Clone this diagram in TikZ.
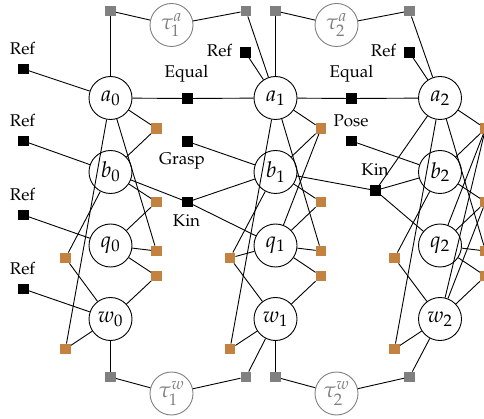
\documentclass[tikz,border=0pt]{standalone}
\usepackage[T1]{fontenc}
\usepackage{mathpazo}
\definecolor{forangec}{RGB}{196,130,64}
\definecolor{fgrayc}{RGB}{128,128,128}
\begin{document}
\begin{tikzpicture}[x=1pt,y=-1pt,
  every node/.style={font=\fontsize{17}{20}\selectfont},
  var/.style={circle,draw,line width=0.9pt,minimum size=43pt,inner sep=0pt,font=\fontsize{22}{24}\selectfont},
  tau/.style={circle,draw=fgrayc,text=fgrayc,line width=0.9pt,minimum size=43pt,inner sep=0pt,font=\fontsize{22}{24}\selectfont},
  fsq/.style={rectangle,inner sep=0pt,minimum size=10.5pt},
  fblack/.style={fsq,fill=black},
  forange/.style={fsq,fill=forangec},
  fgray/.style={fsq,fill=fgrayc},
  lab/.style={inner sep=0pt},
  edge/.style={line width=0.9pt}]
\useasboundingbox (0,0) rectangle (484,419);
% variables
\foreach \c/\x in {0/110.5,1/275.5,2/440}{
  \node[var] (a\c) at (\x,98) {$a_{\c}$};
  \node[var] (b\c) at (\x,172) {$b_{\c}$};
  \node[var] (q\c) at (\x,245.5) {$q_{\c}$};
  \node[var] (w\c) at (\x,319) {$w_{\c}$};
}
% tau nodes
\node[tau] (taua1) at (171.5,25) {$\tau_1^a$};
\node[tau] (taua2) at (336.5,25) {$\tau_2^a$};
\node[tau] (tauw1) at (171.5,393.5) {$\tau_1^w$};
\node[tau] (tauw2) at (336.5,393.5) {$\tau_2^w$};
% gray factors
\node[fgray] (ga0) at (110.5,11) {};
\node[fgray] (ga1l) at (246,11) {};
\node[fgray] (ga1r) at (275.5,11) {};
\node[fgray] (ga2) at (409.5,11) {};
\node[fgray] (gw0) at (110.5,377) {};
\node[fgray] (gw1l) at (246,377) {};
\node[fgray] (gw1r) at (275.5,377) {};
\node[fgray] (gw2) at (409.5,377) {};
% Ref factors
\node[fblack] (r0a) at (23.5,69) {};
\node[fblack] (r0b) at (23.5,141) {};
\node[fblack] (r0q) at (23.5,215) {};
\node[fblack] (r0w) at (23.5,289) {};
\node[fblack] (r1) at (245.5,52.5) {};
\node[fblack] (r2) at (409.5,52.5) {};
\node[lab] (lr0a) at (22.5,49) {Ref};
\node[lab] (lr0b) at (22.5,121) {Ref};
\node[lab] (lr0q) at (22.5,195) {Ref};
\node[lab] (lr0w) at (22.5,269) {Ref};
\node[lab] (lr1) at (219.5,51) {Ref};
\node[lab] (lr2) at (383.5,51) {Ref};
% other black factors
\node[fblack] (eq1) at (187.5,98.5) {};
\node[fblack] (eq2) at (351.5,98.5) {};
\node[fblack] (grasp) at (187.5,141.5) {};
\node[fblack] (kin1) at (187.5,202) {};
\node[fblack] (kin2) at (375.5,190.5) {};
\node[fblack] (pose) at (351.5,141) {};
\node[lab] (leq1) at (186.5,74) {Equal};
\node[lab] (leq2) at (351.5,74) {Equal};
\node[lab] (lgrasp) at (182,161) {Grasp};
\node[lab] (lkin1) at (186.5,221) {Kin};
\node[lab] (lkin2) at (375,170) {Kin};
\node[lab] (lpose) at (351,121) {Pose};
% orange factors
\foreach \c/\x/\y in {0/156.5/65.5,1/321/230,2/485.5/394.5}{
  \node[forange] (o\c1) at (\x,128.5) {};
  \node[forange] (o\c2) at (\x,202) {};
  \node[forange] (o\c3) at (\x,251) {};
  \node[forange] (o\c4) at (\x,276) {};
  \node[forange] (o\c5) at (\y,258) {};
  \node[forange] (o\c6) at (\y,349) {};
}
% edges
\begin{scope}[edge]
\draw (ga0)--(a0); \draw (ga0)--(taua1); \draw (ga1l)--(taua1); \draw (ga1l)--(a1);
\draw (ga1r)--(a1); \draw (ga1r)--(taua2); \draw (ga2)--(taua2); \draw (ga2)--(a2);
\draw (gw0)--(w0); \draw (gw0)--(tauw1); \draw (gw1l)--(tauw1); \draw (gw1l)--(w1);
\draw (gw1r)--(w1); \draw (gw1r)--(tauw2); \draw (gw2)--(tauw2); \draw (gw2)--(w2);
\draw (r0a)--(a0); \draw (r0b)--(b0); \draw (r0q)--(q0); \draw (r0w)--(w0);
\draw (r1)--(a1); \draw (r2)--(a2);
\draw (a0)--(eq1); \draw (eq1)--(a1); \draw (a1)--(eq2); \draw (eq2)--(a2);
\draw (grasp)--(b1); \draw (b0)--(kin1); \draw (kin1)--(b1); \draw (kin1)--(q1);
\draw (b1)--(kin2); \draw (kin2)--(a2); \draw (kin2)--(b2); \draw (kin2)--(q2);
\draw (pose)--(b2);
\foreach \c in {0,1,2}{
  \draw (a\c)--(o\c1); \draw (a\c)--(o\c3); \draw (a\c)--(o\c6);
  \draw (b\c)--(o\c1); \draw (b\c)--(o\c2); \draw (b\c)--(o\c5);
  \draw (q\c)--(o\c2); \draw (q\c)--(o\c3); \draw (q\c)--(o\c4);
  \draw (w\c)--(o\c4); \draw (w\c)--(o\c5); \draw (w\c)--(o\c6);
}
\draw (o11)--(q1); \draw (o15)--(q1);
\draw (o21)--(q2); \draw (o21)--(w2); \draw (o22)--(w2);
\end{scope}
\end{tikzpicture}
\end{document}
